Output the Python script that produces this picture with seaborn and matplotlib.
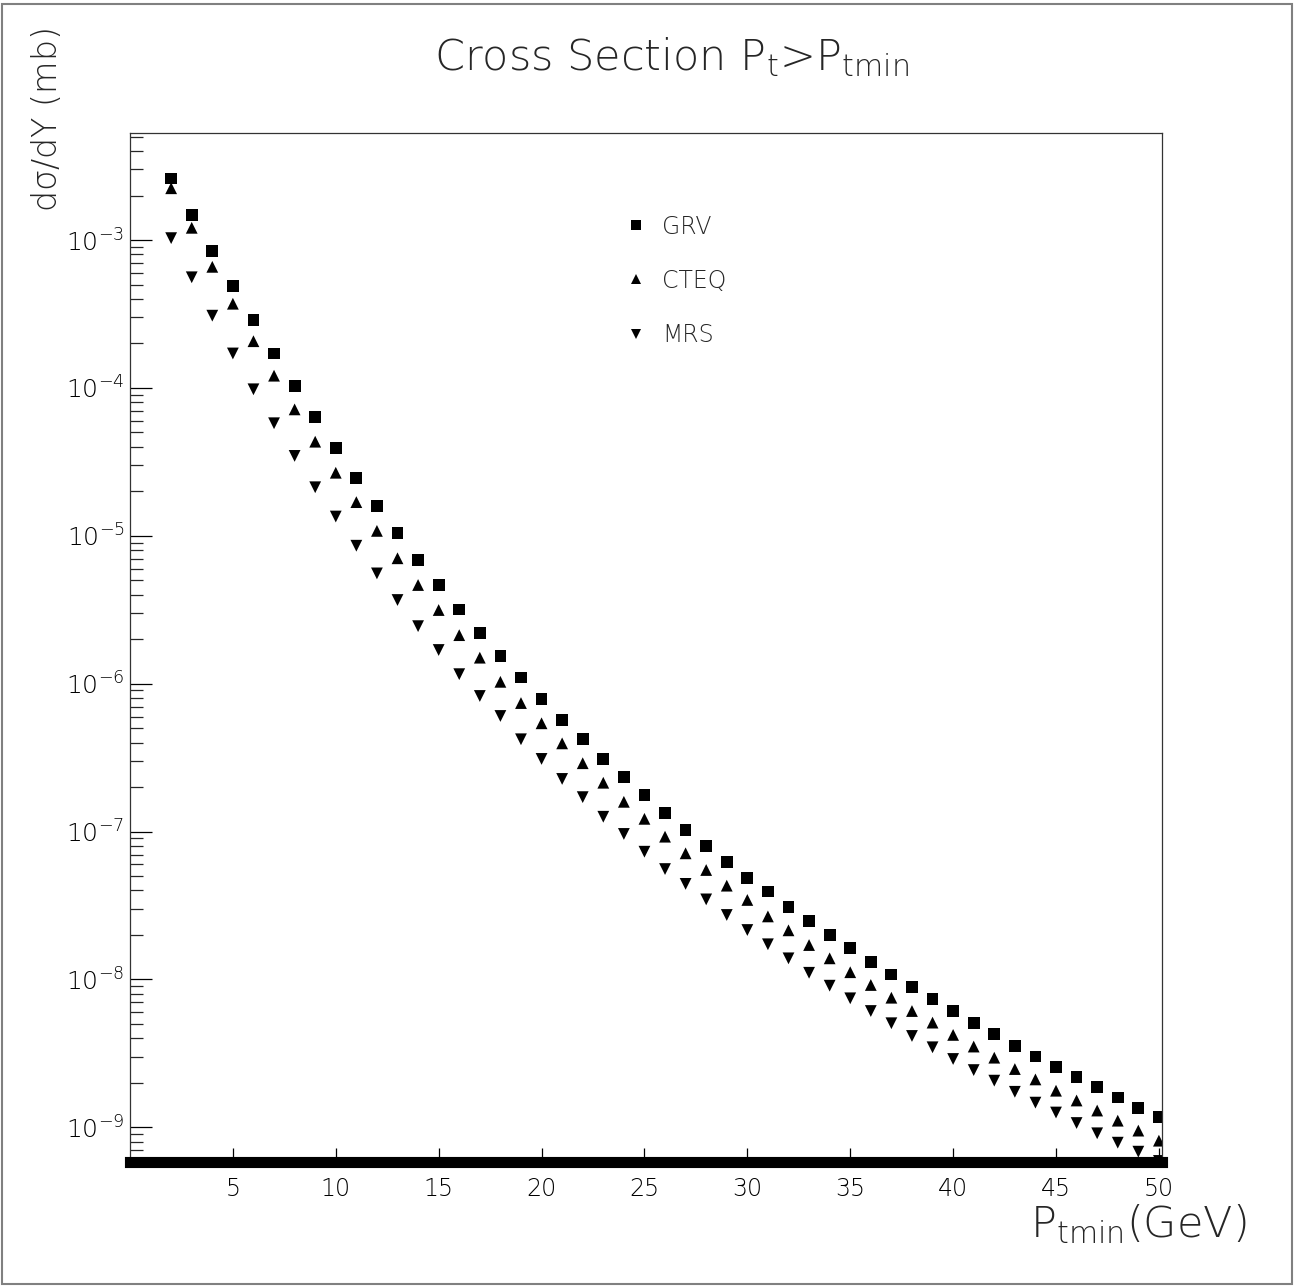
import matplotlib
matplotlib.use("Agg")
import matplotlib.pyplot as plt
import matplotlib.patches as ptc
import matplotlib.ticker as mtick
import seaborn as sns
import pandas as pd

# P_tmin values (GeV) and cross sections (mb) for the three PDF sets
pt_min = list(range(2, 51))
grv = [2.61e-3, 1.48e-3, 8.47e-4, 4.91e-4, 2.88e-4, 1.71e-4, 1.035e-4, 6.33e-5, 3.91e-5, 2.47e-5,
       1.59e-5, 1.04e-5, 6.86e-6, 4.65e-6, 3.18e-6, 2.19e-6, 1.54e-6, 1.10e-6, 7.85e-7, 5.69e-7,
       4.21e-7, 3.10e-7, 2.33e-7, 1.77e-7, 1.34e-7, 1.03e-7, 8.03e-8, 6.25e-8, 4.88e-8, 3.93e-8,
       3.10e-8, 2.49e-8, 2.00e-8, 1.63e-8, 1.32e-8, 1.08e-8, 8.93e-9, 7.35e-9, 6.12e-9, 5.11e-9,
       4.28e-9, 3.57e-9, 3.01e-9, 2.55e-9, 2.18e-9, 1.87e-9, 1.59e-9, 1.36e-9, 1.17e-9]
cteq = [2.24e-3, 1.21e-3, 6.59e-4, 3.71e-4, 2.07e-4, 1.21e-4, 7.16e-5, 4.33e-5, 2.67e-5, 1.69e-5,
        1.08e-5, 7.05e-6, 4.65e-6, 3.15e-6, 2.13e-6, 1.50e-6, 1.03e-6, 7.40e-7, 5.40e-7, 3.95e-7,
        2.90e-7, 2.14e-7, 1.59e-7, 1.22e-7, 9.24e-8, 7.13e-8, 5.50e-8, 4.31e-8, 3.45e-8, 2.67e-8,
        2.15e-8, 1.71e-8, 1.39e-8, 1.12e-8, 9.18e-9, 7.53e-9, 6.12e-9, 5.11e-9, 4.22e-9, 3.52e-9,
        2.96e-9, 2.48e-9, 2.11e-9, 1.77e-9, 1.52e-9, 1.30e-9, 1.11e-9, 9.51e-10, 8.13e-10]
mrs = [1.03e-3, 5.60e-4, 3.08e-4, 1.71e-4, 9.79e-5, 5.77e-5, 3.47e-5, 2.13e-5, 1.35e-5, 8.57e-6,
       5.57e-6, 3.68e-6, 2.45e-6, 1.69e-6, 1.16e-6, 8.26e-7, 6.05e-7, 4.21e-7, 3.10e-7, 2.27e-7,
       1.71e-7, 1.26e-7, 9.64e-8, 7.31e-8, 5.58e-8, 4.43e-8, 3.48e-8, 2.73e-8, 2.16e-8, 1.73e-8,
       1.39e-8, 1.11e-8, 9.08e-9, 7.46e-9, 6.12e-9, 5.06e-9, 4.15e-9, 3.48e-9, 2.90e-9, 2.44e-9,
       2.07e-9, 1.74e-9, 1.47e-9, 1.26e-9, 1.07e-9, 9.12e-10, 7.88e-10, 6.85e-10, 5.93e-10]
pdf_names = ["GRV", "CTEQ", "MRS"]
y_exponents = [-3, -4, -5, -6, -7, -8, -9]
x_major = [5, 10, 15, 20, 25, 30, 35, 40, 45, 50]

df = pd.DataFrame({
    "pt": pt_min * 3,
    "xsec": grv + cteq + mrs,
    "pdf": [n for n in pdf_names for _ in pt_min],
})

sns.set_style("ticks")
plt.rcParams["font.family"] = ["DejaVu Sans"]
plt.rcParams["font.weight"] = "light"
plt.rcParams["mathtext.default"] = "regular"

fig = plt.figure(figsize=(12.96, 12.88), dpi=100)
ax = fig.add_axes([0.1003, 0.0978, 0.7963, 0.7989])

sns.scatterplot(data=df, x="pt", y="xsec", style="pdf", style_order=pdf_names,
                markers={"GRV": "s", "CTEQ": "^", "MRS": "v"},
                color="black", s=72, linewidth=0, ax=ax)

ax.set_yscale("log")
ax.set_xlim(0, 50.15)
ax.set_ylim(5.83e-10, 5.29e-3)

ax.yaxis.set_major_locator(mtick.FixedLocator([10.0 ** e for e in y_exponents]))
ax.yaxis.set_major_formatter(mtick.FixedFormatter([rf"$10^{{{e}}}$" for e in y_exponents]))
ax.yaxis.set_minor_locator(mtick.LogLocator(base=10, subs=range(2, 10), numticks=30))
ax.yaxis.set_minor_formatter(mtick.NullFormatter())
ax.xaxis.set_major_locator(mtick.FixedLocator(x_major))
ax.xaxis.set_minor_locator(mtick.MultipleLocator(1))

ax.tick_params(axis="y", which="major", direction="in", length=16, width=0.9, labelsize=18, pad=4)
ax.tick_params(axis="y", which="minor", direction="in", length=9.5, width=0.9)
ax.tick_params(axis="x", which="major", direction="in", length=10, width=0.9, labelsize=17, pad=11)
ax.tick_params(axis="x", which="minor", direction="in", length=3, width=0.9)
ax.tick_params(colors="black")

ax.set_xlabel("")
ax.set_ylabel("")
for side in ["top", "right", "left"]:
    ax.spines[side].set_linewidth(0.9)
    ax.spines[side].set_color("#333333")
ax.spines["bottom"].set_linewidth(8)
ax.spines["bottom"].set_color("black")

sns.move_legend(ax, "upper left", bbox_to_anchor=(0.472, 0.93), frameon=False,
                title=None, fontsize=17, markerscale=0.8, labelspacing=1.28,
                handlelength=0.8, handletextpad=0.7, borderaxespad=0)

fig.text(0.518, 1 - 70 / 1288, r"Cross Section P$_\mathrm{t}$>P$_\mathrm{tmin}$",
         ha="center", va="baseline", fontsize=31)
fig.text(0.036, 1 - 28 / 1288, r"d$\sigma$/dY (mb)", rotation=90, ha="center", va="top",
         fontsize=24)
fig.text(1246 / 1296, 1 - 1237 / 1288, r"P$_\mathrm{tmin}$(GeV)", ha="right", va="baseline",
         fontsize=31)

fig.add_artist(ptc.Rectangle((0.0015, 0.003), 0.9955, 0.994, transform=fig.transFigure,
                             fill=False, edgecolor="#808080", linewidth=1.5))

fig.savefig("out.png", dpi=100)
